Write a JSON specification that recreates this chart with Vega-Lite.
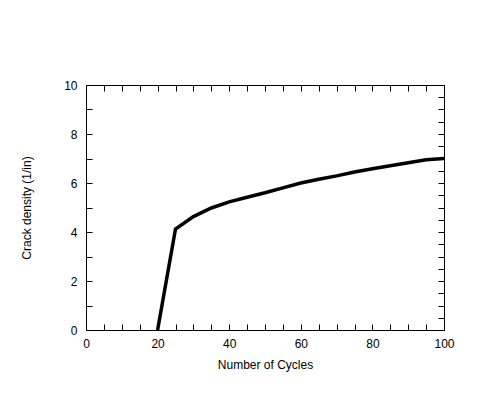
{
  "$schema": "https://vega.github.io/schema/vega-lite/v6.json",
  "autosize": "none",
  "width": 358,
  "height": 245,
  "padding": {"left": 86, "top": 85, "right": 33, "bottom": 64},
  "background": "white",
  "config": {
    "view": {"stroke": "black", "strokeWidth": 1},
    "font": "Liberation Sans",
    "axis": {
      "domain": false,
      "grid": false,
      "ticks": true,
      "tickSize": -6,
      "tickColor": "black",
      "tickWidth": 1,
      "labelColor": "black",
      "labelFontSize": 12,
      "labelFont": "Liberation Sans",
      "titleColor": "black",
      "titleFontSize": 12,
      "titleFont": "Liberation Sans",
      "titleFontWeight": "normal"
    }
  },
  "data": {
    "values": [
      {"cycles": 20, "density": 0},
      {"cycles": 25, "density": 4.12},
      {"cycles": 30, "density": 4.63},
      {"cycles": 35, "density": 4.98},
      {"cycles": 40, "density": 5.23},
      {"cycles": 45, "density": 5.42},
      {"cycles": 50, "density": 5.6},
      {"cycles": 55, "density": 5.8},
      {"cycles": 60, "density": 6.0},
      {"cycles": 65, "density": 6.15},
      {"cycles": 70, "density": 6.29},
      {"cycles": 75, "density": 6.45},
      {"cycles": 80, "density": 6.58},
      {"cycles": 85, "density": 6.7},
      {"cycles": 90, "density": 6.83},
      {"cycles": 95, "density": 6.95},
      {"cycles": 100, "density": 7.0}
    ]
  },
  "resolve": {"axis": {"x": "independent", "y": "independent"}},
  "layer": [
    {
      "mark": {"type": "line", "color": "black", "strokeWidth": 3.5, "clip": true},
      "encoding": {
        "x": {
          "field": "cycles", "type": "quantitative",
          "scale": {"domain": [0, 100], "nice": false},
          "axis": {
            "orient": "bottom",
            "title": "Number of Cycles",
            "values": [0,5,10,15,20,25,30,35,40,45,50,55,60,65,70,75,80,85,90,95,100],
            "format": "d",
            "labelExpr": "datum.value % 20 === 0 ? datum.label : ''",
            "labelPadding": 14,
            "labelFlush": false,
            "labelOverlap": false,
            "titleBaseline": "alphabetic",
            "titleY": 38,
            "encode": {"ticks": {"update": {"y2": {"signal": "datum.value % 20 === 0 ? -6 : -3"}}}}
          }
        },
        "y": {
          "field": "density", "type": "quantitative",
          "scale": {"domain": [0, 10], "nice": false},
          "axis": {
            "orient": "left",
            "title": "Crack density (1/in)",
            "values": [0,0.5,1,1.5,2,2.5,3,3.5,4,4.5,5,5.5,6,6.5,7,7.5,8,8.5,9,9.5,10],
            "format": "d",
            "labelExpr": "datum.value % 2 === 0 ? datum.label : ''",
            "labelPadding": 15,
            "labelFlush": false,
            "labelOverlap": false,
            "titleBaseline": "alphabetic",
            "titleX": -56,
            "encode": {"ticks": {"update": {"x2": {"signal": "datum.value % 2 === 0 ? 6 : 3"}}}}
          }
        }
      }
    },
    {
      "mark": {"type": "line", "opacity": 0},
      "encoding": {
        "x": {
          "field": "cycles", "type": "quantitative",
          "scale": {"domain": [0, 100], "nice": false},
          "axis": {
            "orient": "top",
            "title": null,
            "labels": false,
            "values": [0,5,10,15,20,25,30,35,40,45,50,55,60,65,70,75,80,85,90,95,100],
            "encode": {"ticks": {"update": {"y2": {"signal": "datum.value % 20 === 0 ? 6 : 3"}}}}
          }
        },
        "y": {
          "field": "density", "type": "quantitative",
          "scale": {"domain": [0, 10], "nice": false},
          "axis": {
            "orient": "right",
            "title": null,
            "labels": false,
            "values": [0,0.5,1,1.5,2,2.5,3,3.5,4,4.5,5,5.5,6,6.5,7,7.5,8,8.5,9,9.5,10],
            "encode": {"ticks": {"update": {"x2": {"signal": "datum.value % 2 === 0 ? -6 : -3"}}}}
          }
        }
      }
    }
  ]
}
